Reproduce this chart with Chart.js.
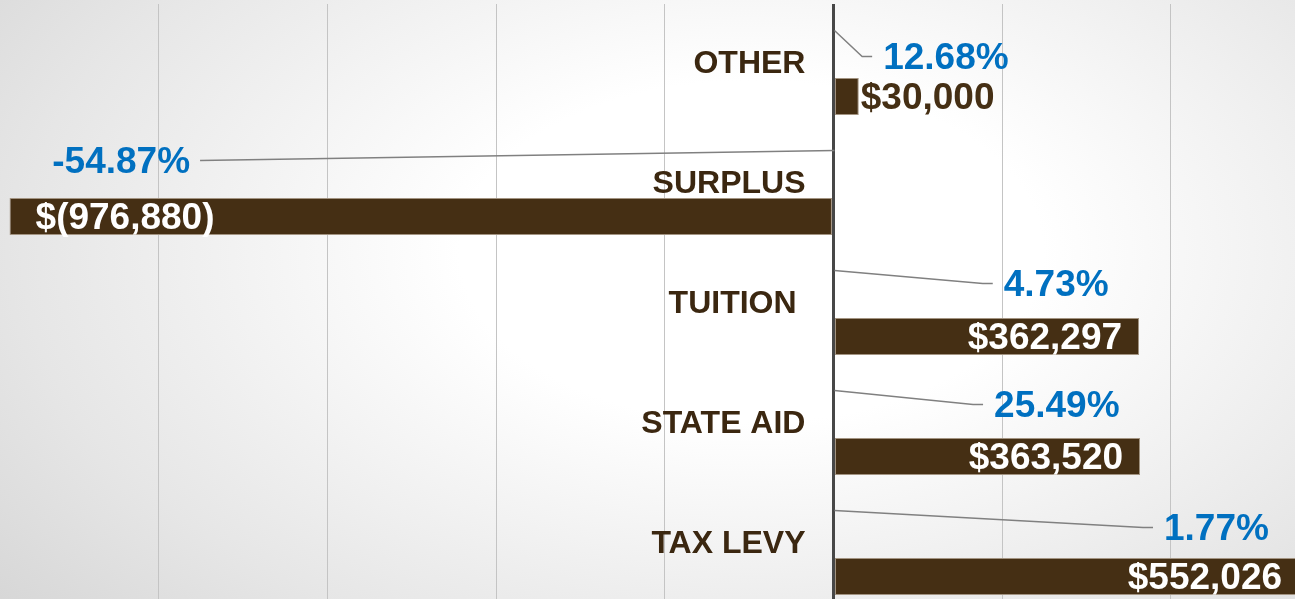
<!DOCTYPE html>
<html>
<head>
<meta charset="utf-8">
<script src="https://cdn.jsdelivr.net/npm/chart.js@4.4.1/dist/chart.umd.min.js"></script>
<style>
  html, body {
    margin: 0;
    padding: 0;
    width: 1295px;
    height: 599px;
    overflow: hidden;
    background: radial-gradient(ellipse 75% 95% at 58% 42%, #ffffff 0%, #ffffff 30%, #e6e6e6 75%, #d6d6d6 100%);
  }
  canvas { display: block; }
</style>
</head>
<body>
<canvas id="chart" width="1295" height="604"></canvas>
<script>
// categorias y valores
const categories = ['OTHER', 'SURPLUS', 'TUITION ', 'STATE AID', 'TAX LEVY'];
const amounts = [30000, -976880, 362297, 363520, 552026];
const percents = [12.68, -54.87, 4.73, 25.49, 1.77];
const gridTicks = [-800000, -600000, -400000, -200000, 0, 200000, 400000];

const brown = '#452f14';
const blue = '#0070c0';

function money(v) {
  const s = Math.abs(v).toLocaleString('en-US');
  return v < 0 ? '$(' + s + ')' : '$' + s;
}

// etiquetas: categoria, porcentaje con linea guia y monto
const labelPlugin = {
  id: 'labels',
  afterDatasetsDraw(chart, args, opts) {
    const ctx = chart.ctx;
    const x = chart.scales.x;
    const zero = x.getPixelForValue(0);
    const bars = chart.getDatasetMeta(1).data;
    ctx.save();
    bars.forEach((bar, i) => {
      const y = bar.y;

      // categoria
      ctx.font = 'bold 32px "Liberation Sans", Arial, sans-serif';
      ctx.fillStyle = '#3b2710';
      ctx.textAlign = 'right';
      ctx.textBaseline = 'middle';
      ctx.fillText(categories[i], zero - 28, y - 32);

      // linea guia
      const endX = x.getPixelForValue(opts.leaderTo[i]);
      const endY = y + opts.leaderDy[i];
      const dir = percents[i] < 0 ? -1 : 1;
      ctx.strokeStyle = '#808080';
      ctx.lineWidth = 1.5;
      ctx.beginPath();
      ctx.moveTo(zero + 1, y - 66);
      ctx.lineTo(endX, endY);
      if (dir > 0) ctx.lineTo(endX + 10, endY);
      ctx.stroke();

      // porcentaje
      ctx.font = 'bold 37px "Liberation Sans", Arial, sans-serif';
      ctx.fillStyle = blue;
      ctx.textAlign = dir > 0 ? 'left' : 'right';
      ctx.fillText(percents[i].toFixed(2) + '%', dir > 0 ? endX + 21 : endX - 10, endY + 2);

      // monto
      const txt = money(amounts[i]);
      const w = ctx.measureText(txt).width;
      const len = Math.abs(bar.x - bar.base);
      if (len > w + 30) {
        ctx.fillStyle = '#ffffff';
        if (amounts[i] < 0) {
          ctx.textAlign = 'left';
          ctx.fillText(txt, bar.x + 26, y + 2);
        } else {
          ctx.textAlign = 'right';
          ctx.fillText(txt, bar.x - 17, y + 2);
        }
      } else {
        ctx.fillStyle = brown;
        ctx.textAlign = 'left';
        ctx.fillText(txt, bar.x + 2, y + 2);
      }
    });
    ctx.restore();
  }
};

new Chart(document.getElementById('chart'), {
  type: 'bar',
  data: {
    labels: categories,
    datasets: [{
      data: categories.map(() => null)
    }, {
      data: amounts,
      backgroundColor: brown,
      borderColor: '#a39482',
      borderWidth: 1,
      borderSkipped: false
    }]
  },
  options: {
    indexAxis: 'y',
    responsive: false,
    animation: false,
    devicePixelRatio: 1,
    categoryPercentage: 1.0833,
    barPercentage: 0.57,
    layout: { padding: { top: 4, left: 0, right: 0, bottom: 0 } },
    plugins: {
      legend: { display: false },
      tooltip: { enabled: false },
      labels: {
        leaderTo: [34000, -751000, 177000, 165500, 367000],
        leaderDy: [-40, -56, -53, -52, -49]
      }
    },
    scales: {
      x: {
        min: -988200,
        max: 547200,
        afterBuildTicks: scale => {
          scale.ticks = gridTicks.map(v => ({ value: v }));
        },
        ticks: { display: false },
        border: { display: false },
        grid: {
          drawTicks: false,
          color: ctx => ctx.tick && ctx.tick.value === 0 ? '#474747' : '#c4c4c4',
          lineWidth: ctx => ctx.tick && ctx.tick.value === 0 ? 3 : 1
        }
      },
      y: {
        display: false,
        grid: { display: false }
      }
    }
  },
  plugins: [labelPlugin]
});
</script>
</body>
</html>
